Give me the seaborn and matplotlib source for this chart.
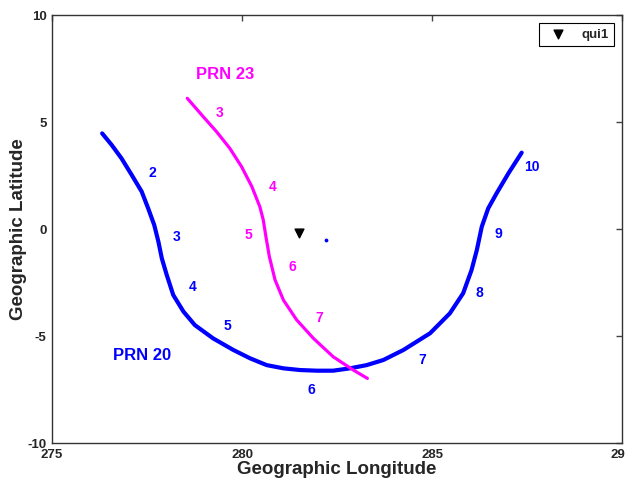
import numpy as np
import pandas as pd
import matplotlib
matplotlib.use("Agg")
import matplotlib.pyplot as plt
import seaborn as sns

# PRN 20 ground track (longitude, latitude)
prn20_lon = [276.32, 276.57, 276.83, 277.10, 277.36, 277.53, 277.69, 277.80, 277.89, 278.02,
             278.19, 278.46, 278.76, 279.24, 279.77, 280.21, 280.65, 281.09, 281.53, 281.97,
             282.40, 282.84, 283.28, 283.72, 284.25, 284.95, 285.47, 285.82, 286.04, 286.18,
             286.31, 286.48, 286.70, 287.01, 287.36]
prn20_lat = [4.47, 3.93, 3.30, 2.52, 1.75, 0.97, 0.19, -0.59, -1.37, -2.15,
             -3.08, -3.86, -4.49, -5.11, -5.65, -6.04, -6.36, -6.51, -6.59, -6.62,
             -6.62, -6.51, -6.36, -6.12, -5.65, -4.87, -3.94, -3.00, -1.92, -0.98,
             0.11, 0.97, 1.67, 2.60, 3.57]

# PRN 23 ground track
prn23_lon = [278.56, 278.98, 279.33, 279.68, 279.99, 280.26, 280.47, 280.56, 280.63, 280.72,
             280.87, 281.09, 281.44, 281.88, 282.40, 282.93, 283.30]
prn23_lat = [6.11, 5.25, 4.55, 3.77, 2.91, 1.98, 1.04, 0.42, -0.36, -1.29,
             -2.38, -3.32, -4.25, -5.11, -5.97, -6.59, -6.98]

# hour labels along each track
prn20_hours = ["2", "3", "4", "5", "6", "7", "8", "9", "10"]
prn20_hour_lon = [277.65, 278.28, 278.69, 279.62, 281.83, 284.74, 286.24, 286.74, 287.64]
prn20_hour_lat = [2.6, -0.36, -2.70, -4.52, -7.52, -6.12, -3.0, -0.25, 2.91]

prn23_hours = ["3", "4", "5", "6", "7"]
prn23_hour_lon = [279.42, 280.80, 280.17, 281.32, 282.03]
prn23_hour_lat = [5.43, 1.98, -0.28, -1.76, -4.14]

# station qui1 and a stray point
station_lon, station_lat = [281.5], [-0.2]
stray_lon, stray_lat = [282.2], [-0.53]

BLUE = "#0000ff"
MAGENTA = "#ff00ff"

sns.set_style("white")
plt.rcParams["font.family"] = ["Liberation Sans", "DejaVu Sans"]
plt.rcParams["font.weight"] = "bold"
plt.rcParams["axes.unicode_minus"] = False

fig = plt.figure(figsize=(6.25, 4.83), dpi=100)
ax = fig.add_axes([0.0832, 0.0828, 0.912, 0.886])

df20 = pd.DataFrame({"lon": prn20_lon, "lat": prn20_lat})
df23 = pd.DataFrame({"lon": prn23_lon, "lat": prn23_lat})
sns.lineplot(data=df20, x="lon", y="lat", sort=False, color=BLUE, linewidth=3, ax=ax)
sns.lineplot(data=df23, x="lon", y="lat", sort=False, color=MAGENTA, linewidth=2.3, ax=ax)

ax.scatter(stray_lon, stray_lat, s=3, color=BLUE, zorder=3)
ax.scatter(station_lon, station_lat, marker="v", s=40, color="black", zorder=4, label="qui1")

for t, x, y in zip(prn20_hours, prn20_hour_lon, prn20_hour_lat):
    ax.text(x, y, t, color=BLUE, fontsize=10, fontweight="bold", ha="center", va="center")
for t, x, y in zip(prn23_hours, prn23_hour_lon, prn23_hour_lat):
    ax.text(x, y, t, color=MAGENTA, fontsize=10, fontweight="bold", ha="center", va="center")

ax.text(277.36, -5.89, "PRN 20", color=BLUE, fontsize=12, fontweight="bold", ha="center", va="center")
ax.text(279.55, 7.2, "PRN 23", color=MAGENTA, fontsize=12, fontweight="bold", ha="center", va="center")

ax.set_xlim(275, 290)
ax.set_ylim(-10, 10)
ax.set_xticks([275, 280, 285, 290])
ax.set_yticks([-10, -5, 0, 5, 10])
ax.tick_params(direction="in", length=4, width=1, color="#444444", labelsize=9.5,
               top=True, right=True, pad=4)
for lab in ax.get_xticklabels() + ax.get_yticklabels():
    lab.set_fontweight("bold")
for sp in ax.spines.values():
    sp.set_color("#333333")
    sp.set_linewidth(1)

ax.set_xlabel("Geographic Longitude", fontsize=13.5, fontweight="bold")
ax.set_ylabel("Geographic Latitude", fontsize=13.5, fontweight="bold")
ax.xaxis.set_label_coords(0.5, -0.042)
ax.yaxis.set_label_coords(-0.044, 0.5)

leg = ax.legend(loc="upper right", fancybox=False, edgecolor="black", framealpha=1,
                fontsize=9.5, handletextpad=0.8, borderpad=0.4, borderaxespad=0.6)
leg.get_frame().set_linewidth(0.8)

fig.savefig("out.png", dpi=100)
